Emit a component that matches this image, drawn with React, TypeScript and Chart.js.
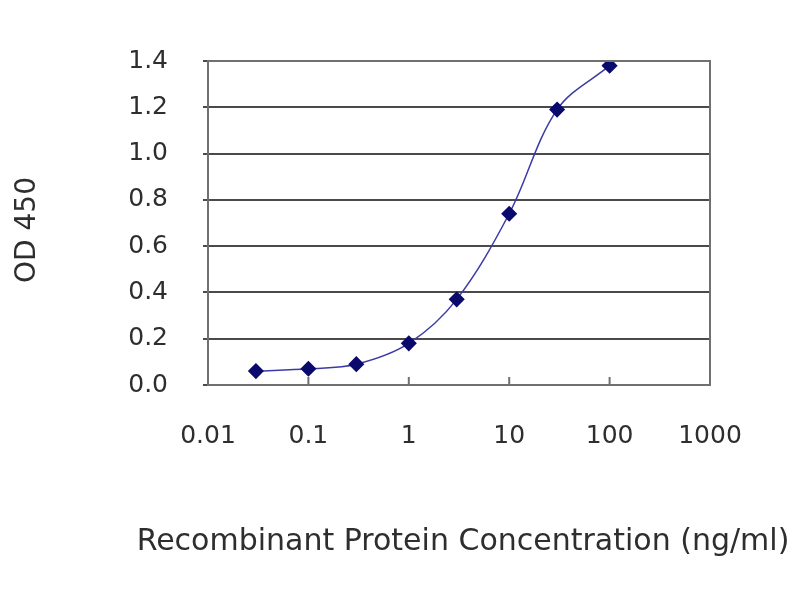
import { Chart, registerables } from 'chart.js';
import { useEffect, useRef } from 'react';

Chart.register(...registerables);

// concentrations (ng/ml) and measured OD 450
const concentrations = [0.03, 0.1, 0.3, 1, 3, 10, 30, 100];
const odValues = [0.06, 0.07, 0.09, 0.18, 0.37, 0.74, 1.19, 1.38];
const xTickValues = [0.01, 0.1, 1, 10, 100, 1000];
const xTitle = 'Recombinant Protein Concentration (ng/ml)';
const yTitle = 'OD 450';

const FONT = "'DejaVu Sans', sans-serif";
const TEXT = '#2e2e2e';

// plot box, inward x tick marks and the axis titles (chart.js squeezes long scale titles)
const framePlugin = {
    id: 'frame',
    afterDraw(chart: Chart) {
        const { ctx, chartArea } = chart;
        const xScale = chart.scales.x;
        ctx.save();
        ctx.strokeStyle = '#707070';
        ctx.lineWidth = 2;
        ctx.strokeRect(chartArea.left, chartArea.top, chartArea.right - chartArea.left, chartArea.bottom - chartArea.top);
        ctx.beginPath();
        xTickValues.forEach((v) => {
            const px = xScale.getPixelForValue(v);
            ctx.moveTo(px, chartArea.bottom);
            ctx.lineTo(px, chartArea.bottom - 8);
        });
        ctx.stroke();

        ctx.fillStyle = TEXT;
        ctx.textAlign = 'center';
        ctx.textBaseline = 'middle';
        ctx.font = `30px ${FONT}`;
        ctx.fillText(xTitle, 463, 542);

        ctx.translate(28, 230);
        ctx.rotate(-Math.PI / 2);
        ctx.font = `28px ${FONT}`;
        ctx.fillText(yTitle, 0, 0);
        ctx.restore();
    },
};

const App = () => {
    const chartRef = useRef<HTMLCanvasElement | null>(null);
    const chartInstance = useRef<Chart<'line'> | null>(null);

    useEffect(() => {
        document.body.style.margin = '0';
        if (chartRef.current) {
            const ctx = chartRef.current.getContext('2d');
            if (ctx) {
                if (chartInstance.current) {
                    chartInstance.current.destroy();
                }

                chartInstance.current = new Chart(ctx, {
                    type: 'line',
                    data: {
                        datasets: [
                            {
                                label: 'OD 450',
                                data: concentrations.map((c, i) => ({ x: c, y: odValues[i] })),
                                borderColor: '#3b3ba8',
                                borderWidth: 1.5,
                                backgroundColor: '#0a0a6e',
                                pointStyle: 'rectRot',
                                pointRadius: 7,
                                pointBorderColor: '#0a0a6e',
                                tension: 0.35,
                                fill: false,
                            },
                        ],
                    },
                    options: {
                        animation: false,
                        responsive: false,
                        maintainAspectRatio: false,
                        layout: {
                            padding: { top: 61, right: 90, bottom: 0, left: 0 },
                        },
                        plugins: {
                            legend: { display: false },
                            tooltip: { enabled: false },
                        },
                        scales: {
                            x: {
                                type: 'logarithmic',
                                min: 0.01,
                                max: 1000,
                                afterBuildTicks: (scale) => {
                                    scale.ticks = xTickValues.map((v) => ({ value: v }));
                                },
                                afterFit: (scale) => {
                                    scale.height = 215;
                                },
                                grid: { display: false, drawTicks: false },
                                border: { display: false },
                                ticks: {
                                    autoSkip: false,
                                    maxRotation: 0,
                                    padding: 36,
                                    color: TEXT,
                                    font: { family: FONT, size: 25 },
                                    callback: (v) => String(v),
                                },
                            },
                            y: {
                                min: 0,
                                max: 1.4,
                                afterFit: (scale) => {
                                    scale.width = 208;
                                },
                                grid: {
                                    color: '#4a4a4a',
                                    lineWidth: 2,
                                    tickLength: 5,
                                },
                                border: { display: false },
                                ticks: {
                                    stepSize: 0.2,
                                    padding: 35,
                                    color: TEXT,
                                    font: { family: FONT, size: 25 },
                                    callback: (v) => Number(v).toFixed(1),
                                },
                            },
                        },
                    },
                    plugins: [framePlugin],
                });
            }
        }
        return () => {
            if (chartInstance.current) {
                chartInstance.current.destroy();
                chartInstance.current = null;
            }
        };
    }, []);

    return (
        <div style={{ position: 'absolute', left: 0, top: 0, width: 800, height: 600, background: '#fff' }}>
            <canvas ref={chartRef} width={800} height={600} />
        </div>
    );
};

export default App;
